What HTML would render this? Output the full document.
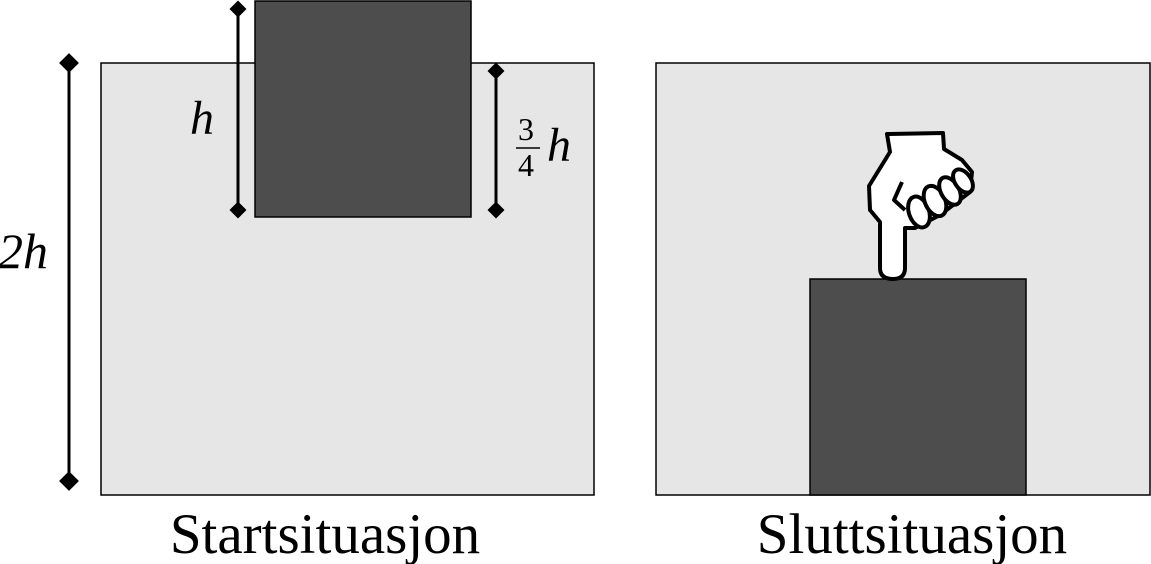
<!DOCTYPE html>
<html><head><meta charset="utf-8"><style>
html,body{margin:0;padding:0;background:#fff;}
svg{display:block;}
text{font-family:"Liberation Serif",serif;fill:#000;}
</style></head><body>
<svg width="1151" height="564" viewBox="0 0 1151 564">
<g>
<rect x="101" y="63" width="493" height="432" fill="#e6e6e6" stroke="#000" stroke-width="1.5"/>
<rect x="255" y="1" width="216" height="216" fill="#4d4d4d" stroke="#000" stroke-width="1.5"/>
<g stroke="#000" stroke-width="3">
<line x1="69" y1="63" x2="69" y2="481"/>
<rect x="62" y="56" width="14" height="14" transform="rotate(45 69 63)" fill="#000" stroke="none"/>
<rect x="62" y="474" width="14" height="14" transform="rotate(45 69 481)" fill="#000" stroke="none"/>
</g>
<text x="-2" y="268" font-size="50" font-style="italic">2h</text>
<g stroke="#000" stroke-width="3">
<line x1="238" y1="9" x2="238" y2="210"/>
<rect x="232" y="3" width="12" height="12" transform="rotate(45 238 9)" fill="#000" stroke="none"/>
<rect x="232" y="204" width="12" height="12" transform="rotate(45 238 210)" fill="#000" stroke="none"/>
</g>
<text x="190" y="134" font-size="48" font-style="italic">h</text>
<g stroke="#000" stroke-width="3">
<line x1="496" y1="71" x2="496" y2="210"/>
<rect x="490" y="65" width="12" height="12" transform="rotate(45 496 71)" fill="#000" stroke="none"/>
<rect x="490" y="204" width="12" height="12" transform="rotate(45 496 210)" fill="#000" stroke="none"/>
</g>
<g>
<text x="518" y="140" font-size="32">3</text>
<line x1="516" y1="148" x2="540" y2="148" stroke="#000" stroke-width="1.5"/>
<text x="518" y="176" font-size="32">4</text>
<text x="547" y="161" font-size="48" font-style="italic">h</text>
</g>
<text x="325" y="553" font-size="57" text-anchor="middle">Startsituasjon</text>
</g>
<g>
<rect x="656" y="63" width="494" height="432" fill="#e6e6e6" stroke="#000" stroke-width="1.5"/>
<rect x="810" y="279" width="216" height="216" fill="#4d4d4d" stroke="#000" stroke-width="1.5"/>
<g fill="#fff" stroke="#000" stroke-width="4" stroke-linejoin="round">
<path d="M887,134 L943,133 L944,149 L962,160 L972,172 L970,192 L940,215 L915,228 L905,228 L905,268 Q905,279 893,279 Q880,279 880,268 L880,222 L870,210 L869,186 L890,152 Z"/>
<ellipse cx="919" cy="212" rx="10" ry="16" transform="rotate(-20 919 212)"/>
<ellipse cx="935" cy="201" rx="10" ry="16" transform="rotate(-25 935 201)"/>
<ellipse cx="950" cy="191" rx="9" ry="15" transform="rotate(-30 950 191)"/>
<ellipse cx="963" cy="181" rx="8" ry="13" transform="rotate(-35 963 181)"/>
<path d="M902,182 L894,200 L905,210" fill="none"/>
</g>
<text x="912" y="553" font-size="57" text-anchor="middle">Sluttsituasjon</text>
</g>
</svg>
</body></html>
